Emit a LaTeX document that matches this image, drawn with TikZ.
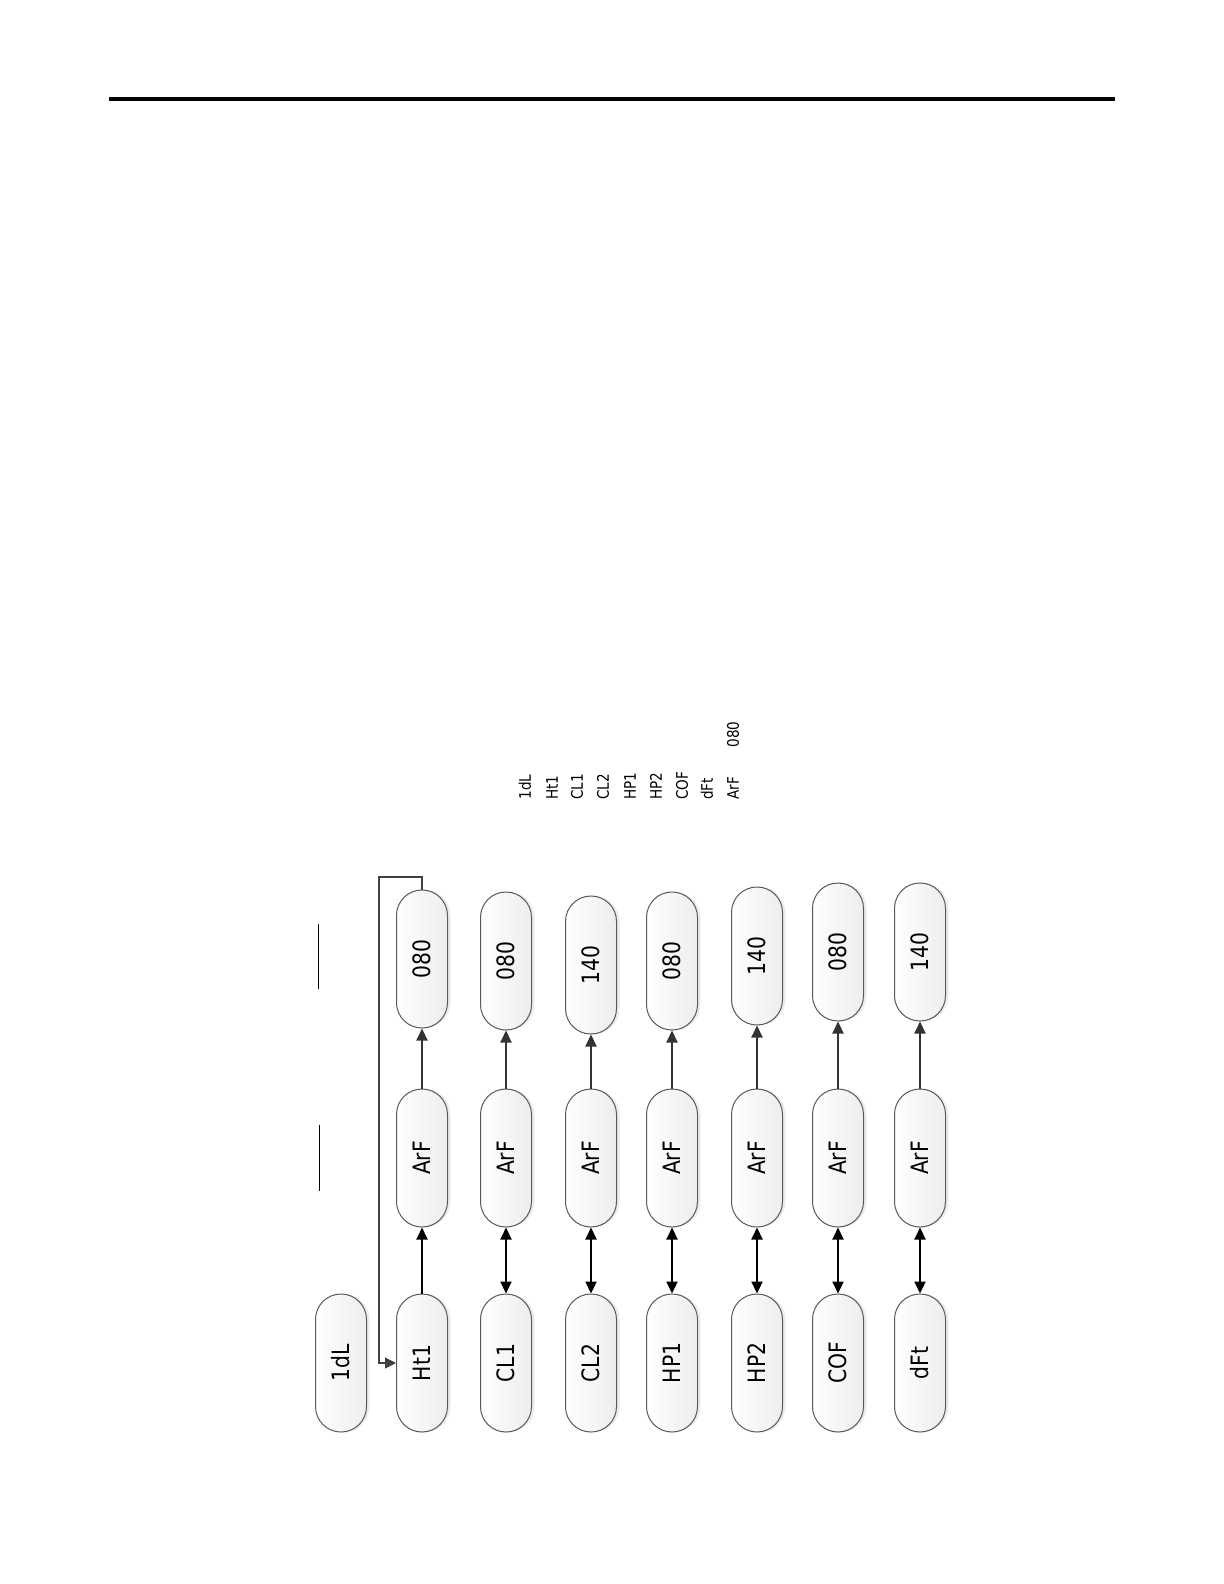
\documentclass[tikz,border=0pt]{standalone}
\usepackage{graphicx}
\usepackage{fontspec}
\newfontfamily\segfont[FakeStretch=0.85]{DejaVu Sans}
\usetikzlibrary{arrows.meta,shadows}

\begin{document}
\begin{tikzpicture}[x=0.5bp,y=-0.5bp]
	\tikzset{mypill/.style={draw=black!65,line width=0.5bp,rounded corners=12.7bp,minimum width=25.5bp,minimum height=69bp,inner sep=0pt,left color=white,right color=black!7,drop shadow={shadow xshift=1.5bp,shadow yshift=0bp,opacity=0.15},font=\segfont\fontsize{12}{12}\selectfont},
		mylist/.style={rotate=90,anchor=west,inner sep=0pt,font=\segfont\fontsize{8}{8}\selectfont},
		myarrow/.style={line width=1.1bp,-{Triangle[length=6bp,width=5.5bp]}},
		mydarrow/.style={line width=1.1bp,{Triangle[length=6bp,width=5.5bp]}-{Triangle[length=6bp,width=5.5bp]}}
	}
    \useasboundingbox (0,0) rectangle (1224,1584);
    \draw [line width=2bp] (109,99) -- (1115,99);

    \node [mylist] (l1) at (525,800) {1dL};
    \node [mylist] (l2) at (552,800) {Ht1};
    \node [mylist] (l3) at (577,800) {CL1};
    \node [mylist] (l4) at (603,800) {CL2};
    \node [mylist] (l5) at (630,800) {HP1};
    \node [mylist] (l6) at (656,800) {HP2};
    \node [mylist] (l7) at (682,800) {COF};
    \node [mylist] (l8) at (707,800) {dFt};
    \node [mylist] (l9) at (733,800) {ArF};
    \node [mylist] (l10) at (733,748) {080};

    \draw [line width=0.5bp] (318,924) -- (318,989)
          (319,1125) -- (319,1191);

    \node [mypill] (idl) at (341,1363) {\rotatebox{90}{1dL}};
    \node [mypill] (ht1) at (422,1363) {\rotatebox{90}{Ht1}};
    \node [mypill] (cl1) at (506,1363) {\rotatebox{90}{CL1}};
    \node [mypill] (cl2) at (591,1363) {\rotatebox{90}{CL2}};
    \node [mypill] (hp1) at (672,1363) {\rotatebox{90}{HP1}};
    \node [mypill] (hp2) at (757,1363) {\rotatebox{90}{HP2}};
    \node [mypill] (cof) at (838,1363) {\rotatebox{90}{COF}};
    \node [mypill] (dft) at (920,1363) {\rotatebox{90}{dFt}};

    \node [mypill] (arf1) at (422,1158) {\rotatebox{90}{ArF}};
    \node [mypill] (arf2) at (506,1158) {\rotatebox{90}{ArF}};
    \node [mypill] (arf3) at (591,1158) {\rotatebox{90}{ArF}};
    \node [mypill] (arf4) at (672,1158) {\rotatebox{90}{ArF}};
    \node [mypill] (arf5) at (757,1158) {\rotatebox{90}{ArF}};
    \node [mypill] (arf6) at (838,1158) {\rotatebox{90}{ArF}};
    \node [mypill] (arf7) at (920,1158) {\rotatebox{90}{ArF}};

    \node [mypill] (val1) at (422,959) {\rotatebox{90}{080}};
    \node [mypill] (val2) at (506,961) {\rotatebox{90}{080}};
    \node [mypill] (val3) at (591,965) {\rotatebox{90}{140}};
    \node [mypill] (val4) at (672,961) {\rotatebox{90}{080}};
    \node [mypill] (val5) at (757,956) {\rotatebox{90}{140}};
    \node [mypill] (val6) at (838,952) {\rotatebox{90}{080}};
    \node [mypill] (val7) at (920,952) {\rotatebox{90}{140}};

    \draw [myarrow] (ht1) -- (arf1);
    \draw [mydarrow] (cl1) -- (arf2);
    \draw [mydarrow] (cl2) -- (arf3);
    \draw [mydarrow] (hp1) -- (arf4);
    \draw [mydarrow] (hp2) -- (arf5);
    \draw [mydarrow] (cof) -- (arf6);
    \draw [mydarrow] (dft) -- (arf7);

    \draw [myarrow,black!80] (arf1) -- (val1);
    \draw [myarrow,black!80] (arf2) -- (val2);
    \draw [myarrow,black!80] (arf3) -- (val3);
    \draw [myarrow,black!80] (arf4) -- (val4);
    \draw [myarrow,black!80] (arf5) -- (val5);
    \draw [myarrow,black!80] (arf6) -- (val6);
    \draw [myarrow,black!80] (arf7) -- (val7);

    \coordinate (loop) at (379,877);
    \draw [black!75,line width=0.7bp,-{Triangle[length=5.5bp,width=5.5bp]}] (val1.north) |- (loop) |- (ht1.west);
\end{tikzpicture}
\end{document}
